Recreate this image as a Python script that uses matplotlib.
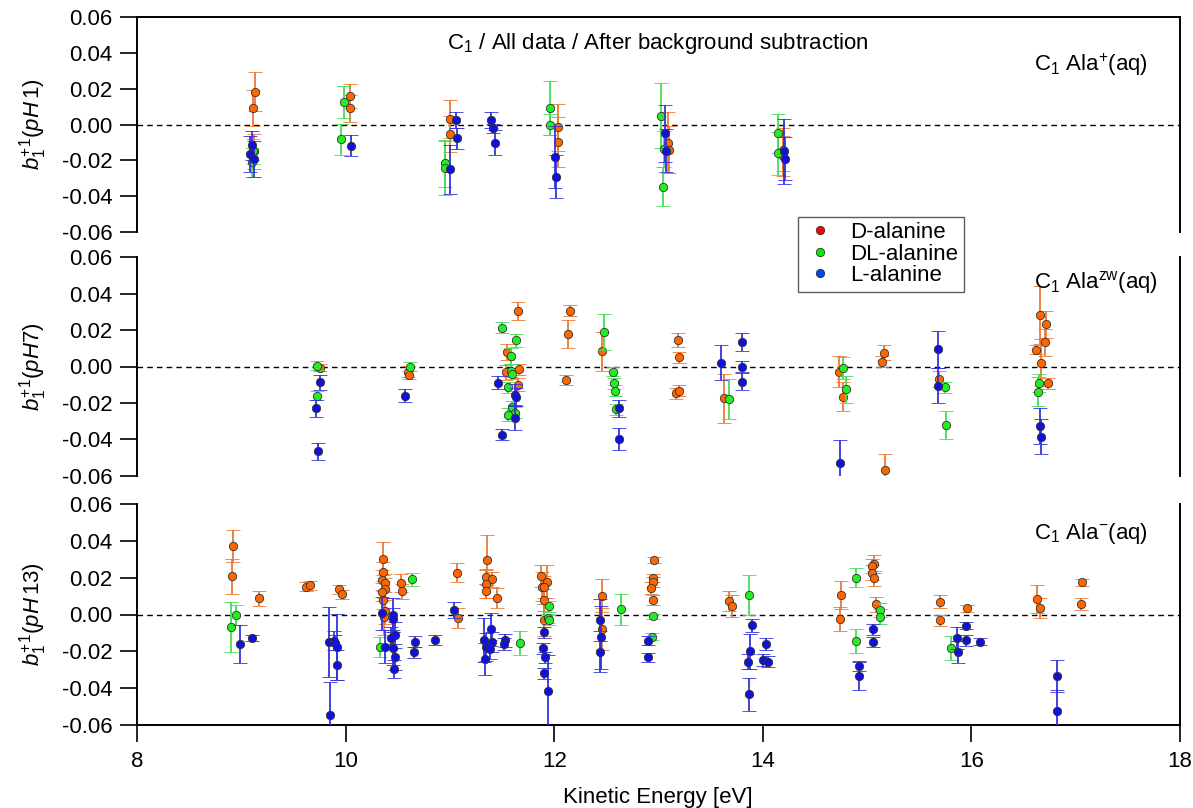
import numpy as np
import matplotlib
matplotlib.use('Agg')
import matplotlib.pyplot as plt
from matplotlib.lines import Line2D

plt.rcParams['font.family'] = ['Liberation Sans', 'DejaVu Sans']
plt.rcParams['mathtext.fontset'] = 'custom'
plt.rcParams['mathtext.rm'] = 'Liberation Sans'
plt.rcParams['mathtext.it'] = 'Liberation Sans:italic'
plt.rcParams['axes.unicode_minus'] = False

# ---- pH 1 (Ala+) ----
d1_x = [9.13, 9.11, 9.12, 10.04, 10.04, 11.00, 11.00, 12.04, 12.04, 13.09, 13.10, 14.19, 14.19]
d1_y = [0.0184, 0.0092, -0.015, 0.016, 0.0092, 0.0032, -0.0054, -0.0015, -0.0095, -0.010, -0.014, -0.014, -0.0175]
d1_e = [0.011, 0.010, 0.010, 0.0065, 0.0075, 0.0105, 0.010, 0.013, 0.014, 0.017, 0.013, 0.012, 0.011]

dl1_x = [9.10, 9.11, 9.98, 9.96, 10.95, 10.95, 11.96, 11.96, 13.02, 13.04, 13.05, 14.15, 14.15]
dl1_y = [-0.021, -0.015, 0.0125, -0.0082, -0.0216, -0.0244, 0.0092, 0.0, 0.005, -0.0347, -0.0136, -0.0048, -0.016]
dl1_e = [0.008, 0.007, 0.009, 0.0085, 0.013, 0.015, 0.015, 0.006, 0.018, 0.011, 0.010, 0.011, 0.012]

l1_x = [9.10, 9.08, 9.12, 10.05, 11.00, 11.06, 11.07, 11.39, 11.41, 11.43, 12.01, 12.02, 13.06, 13.07, 14.20, 14.21]
l1_y = [-0.0115, -0.0164, -0.019, -0.0117, -0.025, 0.0026, -0.0076, 0.0026, -0.002, -0.010, -0.018, -0.029,
        -0.0048, -0.0145, -0.015, -0.019]
l1_e = [0.008, 0.010, 0.010, 0.006, 0.0135, 0.0045, 0.006, 0.0045, 0.0025, 0.007, 0.0175, 0.012, 0.016, 0.012,
        0.018, 0.012]

# ---- pH 7 (zwitterion) ----
d7_x = [9.75, 10.60, 10.61, 11.65, 11.55, 11.66, 11.54, 11.65, 12.15, 12.13, 12.11, 12.46, 13.19, 13.20, 13.17,
        13.20, 13.63, 14.73, 14.77, 15.16, 15.14, 15.17, 15.69, 16.66, 16.72, 16.71, 16.62, 16.67, 16.73]
d7_y = [-0.0007, -0.0029, -0.0047, 0.0307, 0.0081, -0.0015, -0.0032, -0.010, 0.0307, 0.0179, -0.0074, 0.0083,
        0.0146, 0.005, -0.0147, -0.0133, -0.0175, -0.0028, -0.0166, 0.0076, 0.0026, -0.0569, -0.007, 0.0283,
        0.0232, 0.0133, 0.0091, 0.0021, -0.0092]
d7_e = [0.002, 0.003, 0.002, 0.005, 0.0045, 0.003, 0.004, 0.0035, 0.003, 0.0075, 0.003, 0.0105, 0.0038, 0.003,
        0.003, 0.003, 0.0135, 0.0085, 0.008, 0.004, 0.003, 0.009, 0.0045, 0.016, 0.0075, 0.0075, 0.0025, 0.013,
        0.003]

dl7_x = [9.73, 9.73, 10.62, 11.50, 11.63, 11.59, 11.59, 11.60, 11.56, 11.60, 11.62, 11.56, 12.48, 12.56, 12.57,
         12.58, 12.59, 13.68, 14.77, 14.80, 15.75, 15.76, 16.65, 16.64]
dl7_y = [0.0004, -0.016, -0.0001, 0.0213, 0.0144, 0.0058, -0.0023, -0.0041, -0.0114, -0.0222, -0.0254, -0.0265,
         0.0191, -0.0028, -0.0092, -0.0133, -0.0234, -0.0177, -0.001, -0.0125, -0.0114, -0.0321, -0.0089, -0.0138]
dl7_e = [0.0025, 0.0025, 0.0025, 0.003, 0.0035, 0.0045, 0.0035, 0.003, 0.003, 0.003, 0.003, 0.0035, 0.010,
         0.0025, 0.003, 0.003, 0.003, 0.011, 0.006, 0.0075, 0.003, 0.0075, 0.005, 0.008]

l7_x = [9.75, 9.72, 9.74, 10.57, 11.46, 11.62, 11.63, 11.62, 11.50, 12.62, 12.62, 13.60, 13.80, 13.80, 13.80,
        14.74, 15.68, 15.68, 16.66, 16.67]
l7_y = [-0.0087, -0.023, -0.0466, -0.016, -0.0089, -0.0157, -0.0169, -0.0281, -0.0376, -0.023, -0.0398, 0.0021,
        0.0136, 0.0, -0.0083, -0.0528, 0.0094, -0.0105, -0.0327, -0.0386]
l7_e = [0.004, 0.0045, 0.0045, 0.0035, 0.0035, 0.006, 0.005, 0.007, 0.003, 0.0045, 0.006, 0.0095, 0.005, 0.003,
        0.0045, 0.0125, 0.010, 0.0095, 0.010, 0.0095]

# ---- pH 13 (Ala-) ----
d13_x = [8.92, 8.91, 9.17, 9.62, 9.66, 9.94, 9.97, 10.36, 10.36, 10.35, 10.38, 10.38, 10.35, 10.36, 10.38, 10.37,
         10.53, 10.54, 11.07, 11.08, 11.36, 11.35, 11.40, 11.35, 11.35, 11.45, 11.87, 11.93, 11.88, 11.90, 11.90,
         11.90, 12.46, 12.46, 12.96, 12.95, 12.95, 12.93, 12.95, 13.68, 13.70, 14.75, 14.74, 15.07, 15.05, 15.05,
         15.07, 15.09, 15.70, 15.70, 15.96, 16.63, 16.66, 17.06, 17.05]
d13_y = [0.0372, 0.0209, 0.0088, 0.0151, 0.0159, 0.0137, 0.011, 0.0302, 0.0233, 0.0188, 0.017, 0.0139, 0.0121,
         0.0079, 0.0021, -0.0012, 0.017, 0.0126, 0.0227, -0.0021, 0.0295, 0.0206, 0.0191, 0.0166, 0.0128, 0.0091,
         0.0209, 0.0178, 0.0151, 0.0148, 0.0079, -0.003, 0.0102, -0.0077, 0.0295, 0.0198, 0.0177, 0.0144, 0.0079,
         0.0075, 0.0048, 0.0106, -0.0026, 0.0274, 0.0264, 0.0227, 0.0197, 0.0055, 0.007, -0.003, 0.0034, 0.0084,
         0.0037, 0.0175, 0.0057]
d13_e = [0.0085, 0.0095, 0.004, 0.0025, 0.0025, 0.0025, 0.0025, 0.009, 0.005, 0.0055, 0.005, 0.006, 0.005, 0.005,
         0.007, 0.010, 0.005, 0.004, 0.005, 0.0055, 0.0135, 0.004, 0.004, 0.0075, 0.004, 0.0055, 0.006, 0.009,
         0.008, 0.006, 0.006, 0.0085, 0.009, 0.0115, 0.0015, 0.002, 0.0025, 0.0035, 0.0025, 0.0055, 0.006, 0.0075,
         0.0065, 0.005, 0.004, 0.004, 0.004, 0.004, 0.0035, 0.003, 0.002, 0.0075, 0.0055, 0.002, 0.003]

dl13_x = [8.95, 8.90, 10.33, 10.64, 11.67, 11.95, 11.94, 11.95, 12.64, 12.95, 12.94, 13.87, 14.89, 14.89, 15.12,
          15.12, 15.80]
dl13_y = [-0.0003, -0.0066, -0.0178, 0.0191, -0.0153, 0.0046, -0.0021, -0.003, 0.0028, -0.001, -0.0121, 0.0106,
          0.020, -0.0144, 0.0024, -0.0012, -0.018]
dl13_e = [0.0055, 0.0135, 0.0055, 0.0035, 0.0065, 0.003, 0.0025, 0.0025, 0.0085, 0.0015, 0.002, 0.011, 0.005,
          0.0065, 0.004, 0.004, 0.0065]

l13_x = [8.99, 9.10, 9.84, 9.85, 9.89, 9.90, 9.92, 9.92, 10.35, 10.45, 10.45, 10.47, 10.44, 10.45, 10.38, 10.47,
         10.46, 10.67, 10.66, 10.86, 11.04, 11.39, 11.33, 11.40, 11.35, 11.38, 11.34, 11.53, 11.52, 11.90, 11.89,
         11.91, 11.90, 11.94, 12.44, 12.45, 12.44, 12.90, 12.90, 13.90, 13.88, 13.86, 13.87, 14.03, 14.00, 14.05,
         14.92, 14.92, 15.06, 15.06, 15.86, 15.87, 15.95, 15.95, 16.08, 16.82, 16.82]
l13_y = [-0.016, -0.0126, -0.0148, -0.0548, -0.0142, -0.0153, -0.0175, -0.0274, 0.0007, -0.0003, -0.0026, -0.0111,
         -0.0126, -0.0184, -0.0175, -0.0229, -0.0296, -0.0148, -0.0206, -0.0139, 0.0024, -0.008, -0.0139, -0.0149,
         -0.0175, -0.0189, -0.0242, -0.0139, -0.016, -0.0097, -0.0184, -0.0233, -0.032, -0.0418, -0.003, -0.0124,
         -0.0202, -0.0142, -0.0233, -0.0059, -0.020, -0.0256, -0.0434, -0.016, -0.0247, -0.0256, -0.028, -0.0333,
         -0.0079, -0.0148, -0.0129, -0.0202, -0.0061, -0.0139, -0.0148, -0.0334, -0.0524]
l13_e = [0.0105, 0.0017, 0.019, 0.018, 0.005, 0.004, 0.018, 0.008, 0.009, 0.009, 0.006, 0.007, 0.006, 0.009, 0.009,
         0.007, 0.005, 0.003, 0.003, 0.0025, 0.0045, 0.009, 0.012, 0.0055, 0.0075, 0.005, 0.0085, 0.0035, 0.0035,
         0.003, 0.003, 0.003, 0.003, 0.02, 0.0115, 0.017, 0.011, 0.0025, 0.0025, 0.0035, 0.0095, 0.004, 0.009,
         0.0035, 0.003, 0.003, 0.0025, 0.0075, 0.003, 0.0028, 0.006, 0.006, 0.002, 0.003, 0.002, 0.0085, 0.0115]

panels = [
    ((d1_x, d1_y, d1_e), (dl1_x, dl1_y, dl1_e), (l1_x, l1_y, l1_e)),
    ((d7_x, d7_y, d7_e), (dl7_x, dl7_y, dl7_e), (l7_x, l7_y, l7_e)),
    ((d13_x, d13_y, d13_e), (dl13_x, dl13_y, dl13_e), (l13_x, l13_y, l13_e)),
]
ylabels = [r'$b_1^{+1}(pH\,1)$', r'$b_1^{+1}(pH7)$', r'$b_1^{+1}(pH\,13)$']
tags = [r'C$_1$ Ala$^{+}$(aq)', r'C$_1$ Ala$^{\mathrm{zw}}$(aq)', r'C$_1$ Ala$^{-}$(aq)']

face = ['#ff6600', '#22ee22', '#1111dd']
bar = ['#ee7733', '#44dd55', '#3333dd']
names = ['D-alanine', 'DL-alanine', 'L-alanine']

FS = 16
W, H = 1193, 808
fig = plt.figure(figsize=(W / 100, H / 100), dpi=100)

# panel extents in pixels (top, bottom)
rows = [(17.3, 232.0), (257.3, 475.7), (504.0, 725.0)]
left, right = 137, 1180

for i, (top, bot) in enumerate(rows):
    ax = fig.add_axes([left / W, 1 - bot / H, (right - left) / W, (bot - top) / H])
    for k, (xs, ys, es) in enumerate(panels[i]):
        ax.errorbar(xs, ys, yerr=es, fmt='o', ms=6.0, mfc=face[k], mec='#333333', mew=0.6,
                    ecolor=bar[k], elinewidth=1.3, capsize=4.8, capthick=1.3, zorder=3 + k)
    ax.axhline(0, color='black', lw=1.0, ls=(0, (4, 3)), zorder=2)
    ax.set_xlim(8, 18)
    ax.set_ylim(-0.06, 0.06)
    ax.set_yticks(np.arange(-0.06, 0.061, 0.02))
    ax.yaxis.set_major_formatter(plt.FormatStrFormatter('%.2f'))
    for s in ax.spines.values():
        s.set_linewidth(1.4)
    ax.spines['top'].set_visible(i == 0)
    ax.spines['bottom'].set_visible(i == 2)
    ax.tick_params(axis='y', direction='out', length=12.5, width=1.2, labelsize=FS, pad=5)
    if i == 2:
        ax.set_xticks(np.arange(8, 19, 2))
        ax.tick_params(axis='x', direction='out', length=12.5, width=1.2, labelsize=FS, pad=6)
    else:
        ax.tick_params(axis='x', bottom=False, labelbottom=False)
    fig.text(33 / W, 1 - (top + bot) / 2 / H, ylabels[i], rotation=90, ha='center', va='center', fontsize=FS)
    ty = [65, 283, 533][i]
    fig.text(1034 / W, 1 - ty / H, tags[i], ha='left', va='center', fontsize=FS)

fig.text(658 / W, 1 - 43 / H, r'C$_1$ / All data / After background subtraction',
         ha='center', va='center', fontsize=FS)
fig.text(658 / W, 1 - 797 / H, 'Kinetic Energy [eV]', ha='center', va='center', fontsize=FS)

handles = [Line2D([], [], ls='none', marker='o', ms=6, mfc=c, mec='#333333', mew=0.6)
           for c in ['#ff0000', '#00ee00', '#0044ff']]
leg = fig.legend(handles, names, loc='upper left', bbox_to_anchor=(798 / W, 1 - 216.7 / H),
                 fontsize=FS, frameon=True, fancybox=False, borderaxespad=0, borderpad=0.25,
                 handlelength=1.5, handletextpad=0.6, labelspacing=0.02)
leg.get_frame().set_edgecolor('#333333')
leg.get_frame().set_linewidth(1.0)

fig.savefig('out.png', dpi=100)
